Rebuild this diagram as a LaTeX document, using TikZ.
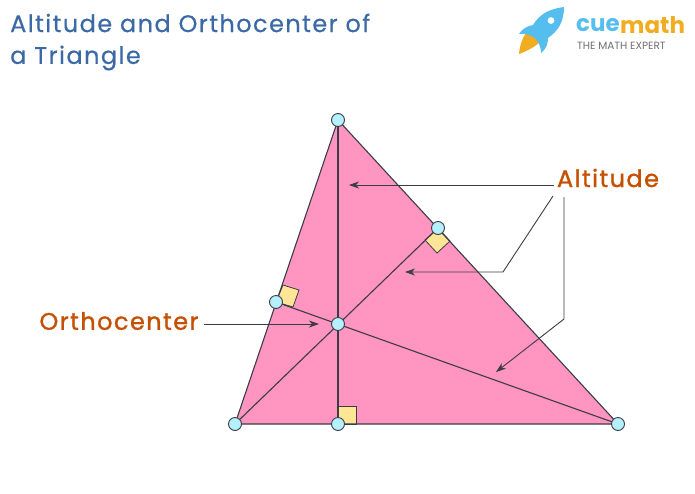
\documentclass[tikz,border=0pt]{standalone}
\usepackage{fontspec}
\setmainfont{Poppins}
\newfontfamily\labelfont[LetterSpace=6,FakeBold=1.2]{Poppins}
\newfontfamily\titlefont[LetterSpace=6,FakeBold=0.5]{Poppins}
\usetikzlibrary{arrows.meta}
\definecolor{trifill}{HTML}{FF95C0}
\definecolor{sqfill}{HTML}{FFE596}
\definecolor{dotfill}{HTML}{B5F0FF}
\definecolor{linecol}{HTML}{3C3C44}
\definecolor{labelcol}{HTML}{C65000}
\definecolor{titlecol}{HTML}{3A69A6}
\definecolor{rocketblue}{HTML}{55BEEE}
\definecolor{rocketorange}{HTML}{F2AC20}
\definecolor{slogancol}{HTML}{6E6E6E}
\tikzset{
  dot/.style={circle, draw=linecol, fill=dotfill, line width=0.9pt, inner sep=0pt, minimum size=13pt},
  leader/.style={linecol, line width=0.9pt},
  pointer/.style={leader, -{Stealth[length=10pt, width=7pt, inset=3pt]}},
  side/.style={linecol, line width=1.1pt},
  rightangle/.style={draw=linecol, fill=sqfill, line width=0.8pt},
  callout/.style={text=labelcol, font=\fontsize{24}{24}\labelfont, inner sep=0pt},
  heading/.style={text=titlecol, font=\fontsize{24}{24}\titlefont, inner sep=0pt, anchor=west}
}
\begin{document}
\begin{tikzpicture}[x=1pt, y=-1pt]
  \useasboundingbox (0,0) rectangle (695,493);

  \coordinate (apex) at (338,120);
  \coordinate (bl) at (235,424);
  \coordinate (br) at (618,424);
  \coordinate (footc) at (338,424);
  \coordinate (footr) at (438,228);
  \coordinate (footl) at (276,302);
  \coordinate (ortho) at (338,324);

  \fill [trifill] (apex) -- (bl) -- (br) -- cycle;
  \draw [rightangle] (338,406) -- (356,406) -- (356,424) -- (338,424) -- cycle;
  \draw [rightangle] (438,228) -- (450,241) -- (437,253) -- (425,240) -- cycle;
  \draw [rightangle] (276,302) -- (283,285) -- (299,290) -- (293,307) -- cycle;
  \draw [side] (apex) -- (bl) -- (br) -- cycle;
  \draw [side] (apex) -- (footc);
  \draw [side] (bl) -- (footr);
  \draw [side] (br) -- (footl);

  \node [dot] (napex) at (apex) {};
  \node [dot] (nbl) at (bl) {};
  \node [dot] (nbr) at (br) {};
  \node [dot] (nfootc) at (footc) {};
  \node [dot] (nfootr) at (footr) {};
  \node [dot] (nfootl) at (footl) {};
  \node [dot] (northo) at (ortho) {};

  \node [callout] (altitude) at (608,178) {Altitude};
  \node [callout] (orthocenter) at (119,321) {Orthocenter};
  \node [heading] (title1) at (10,23) {Altitude and Orthocenter of};
  \node [heading] (title2) at (10,58) {a Triangle};

  \coordinate (alt1) at (349,185);
  \coordinate (alt2) at (405,272);
  \coordinate (alt3) at (496,372);
  \coordinate (orthotip) at (319,324);
  \draw [pointer] (altitude.west |- alt1) ++(-3,0) -- (alt1);
  \draw [pointer] (553,196) -- (503,272) -- (alt2);
  \draw [pointer] (564,197) -- (564,319) -- (alt3);
  \draw [pointer] (orthocenter.east |- orthotip) ++(5,0) -- (orthotip);

  % logo
  \fill [rocketorange] (531,28) .. controls (524,33) and (520,43) .. (519,54) .. controls (527,51) and (535,47) .. (541,41) -- cycle;
  \fill [rocketblue, even odd rule] (519,34) .. controls (522,29) and (527,26) .. (533,25)
    .. controls (539,15) and (548,9) .. (564,7)
    .. controls (564,22) and (558,31) .. (548,38)
    .. controls (548,44) and (546,49) .. (541,53)
    .. controls (541,47) and (539,43) .. (535,38)
    .. controls (530,35) and (525,33) .. (519,34) -- cycle
    (551,20.5) circle (3.5);
  \node [text=rocketblue, font=\fontsize{23}{23}\selectfont\bfseries, inner sep=0pt, anchor=west] (cue) at (576,25) {cue};
  \node [text=rocketorange, font=\fontsize{23}{23}\selectfont\bfseries, inner sep=0pt, anchor=west] (math) at (cue.east) {math};
  \node [text=slogancol, font=\fontsize{10.5}{10.5}\selectfont, inner sep=0pt, anchor=west] (slogan) at (577,46) {THE MATH EXPERT};
\end{tikzpicture}
\end{document}
